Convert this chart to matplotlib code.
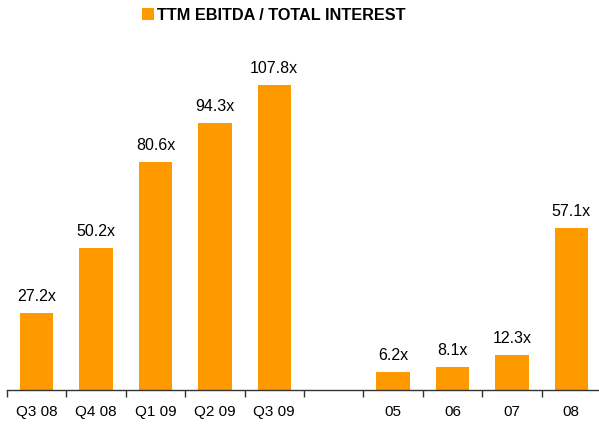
import matplotlib
matplotlib.use("Agg")
import matplotlib.pyplot as plt
from matplotlib.patches import Patch
import numpy as np

plt.rcParams['font.family'] = ['Liberation Sans', 'DejaVu Sans']

categories = ["Q3 08", "Q4 08", "Q1 09", "Q2 09", "Q3 09", "", "05", "06", "07", "08"]
values = [27.2, 50.2, 80.6, 94.3, 107.8, None, 6.2, 8.1, 12.3, 57.1]
labels = ["27.2x", "50.2x", "80.6x", "94.3x", "107.8x", "", "6.2x", "8.1x", "12.3x", "57.1x"]
series_name = "TTM EBITDA / TOTAL INTEREST"
color = "#FF9900"

W, H = 599, 427
fig = plt.figure(figsize=(W/100, H/100), dpi=100)
left_px, right_px = 7, 601
base_px = 391
scale = 2.83  # px per unit
ymax = 125
top_px = base_px - ymax*scale
ax = fig.add_axes([left_px/W, (H-base_px)/H, (right_px-left_px)/W, (base_px-top_px)/H])

x = np.arange(len(categories))
for xi, v, lab in zip(x, values, labels):
    if v is None:
        continue
    ax.bar(xi, v, width=0.56, color=color, zorder=2)
    ax.text(xi, v + 3.6, lab, ha='center', va='bottom', fontsize=11.5, color='black')

ax.set_xlim(-0.5, len(categories)-0.5)
ax.set_ylim(0, ymax)
for s in ['top', 'right', 'left']:
    ax.spines[s].set_visible(False)
ax.spines['bottom'].set_color('#333333')
ax.spines['bottom'].set_linewidth(1.0)
ax.set_yticks([])
ax.set_xticks(x)
ax.set_xticklabels(categories, fontsize=11)
ax.tick_params(axis='x', which='major', length=0, pad=10)
ax.set_xticks(np.arange(-0.5, len(categories)), minor=True)
ax.tick_params(axis='x', which='minor', length=5, color='#333333', width=1.0)

handle = Patch(facecolor=color, edgecolor='none')
fig.legend([handle], [series_name], loc='center', bbox_to_anchor=(274/W, 1-16/H),
           frameon=False, prop={'weight': 'bold', 'size': 11.7},
           handlelength=0.75, handleheight=0.75, handletextpad=0.2, borderpad=0)

fig.savefig("out.png", dpi=100)
